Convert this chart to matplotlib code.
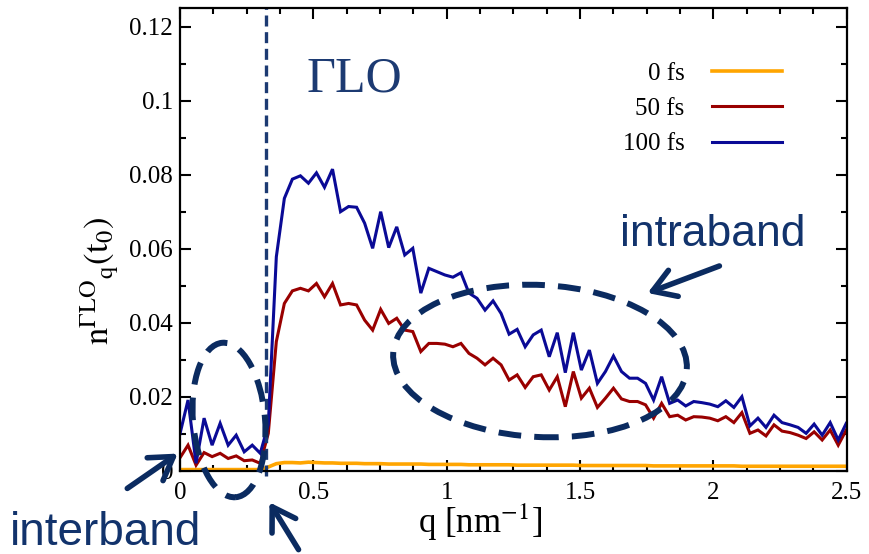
import numpy as np
import matplotlib
matplotlib.use("Agg")
import matplotlib.pyplot as plt
from matplotlib.patches import Ellipse, FancyArrowPatch
from matplotlib.transforms import Affine2D
from matplotlib.ticker import MultipleLocator, FuncFormatter

# ---------------- data ----------------
q_step = 0.0301
n_0fs = [0.0003, 0.0003, 0.0003, 0.0003, 0.0003, 0.0003, 0.0003, 0.0003, 0.0003, 0.0003,
         0.0003, 0.0010, 0.0019, 0.0022, 0.0022, 0.0021, 0.0023, 0.0022, 0.0021, 0.0021,
         0.0020, 0.0020, 0.0020, 0.0019, 0.0019, 0.0019, 0.0018, 0.0018, 0.0018, 0.0018,
         0.0018, 0.0017, 0.0017, 0.0017, 0.0017, 0.0017, 0.0016, 0.0016, 0.0016, 0.0016,
         0.0016, 0.0016, 0.0015, 0.0015, 0.0015, 0.0015, 0.0015, 0.0015, 0.0015, 0.0015,
         0.0014, 0.0014, 0.0014, 0.0014, 0.0014, 0.0014, 0.0014, 0.0014, 0.0014, 0.0013,
         0.0013, 0.0013, 0.0013, 0.0013, 0.0013, 0.0013, 0.0013, 0.0013, 0.0013, 0.0013,
         0.0012, 0.0012, 0.0012, 0.0012, 0.0012, 0.0012, 0.0012, 0.0012, 0.0012, 0.0012,
         0.0012, 0.0012, 0.0012, 0.0012]
n_50fs = [0.0035, 0.0069, 0.0015, 0.0049, 0.0038, 0.0047, 0.0033, 0.0040, 0.0027, 0.0029,
          0.0020, 0.0101, 0.0349, 0.0452, 0.0486, 0.0493, 0.0486, 0.0506, 0.0470, 0.0506,
          0.0448, 0.0452, 0.0448, 0.0407, 0.0380, 0.0436, 0.0398, 0.0412, 0.0380, 0.0376,
          0.0322, 0.0344, 0.0344, 0.0342, 0.0335, 0.0344, 0.0317, 0.0304, 0.0286, 0.0304,
          0.0286, 0.0245, 0.0259, 0.0225, 0.0254, 0.0259, 0.0218, 0.0254, 0.0173, 0.0268,
          0.0196, 0.0223, 0.0171, 0.0196, 0.0223, 0.0194, 0.0187, 0.0187, 0.0178, 0.0142,
          0.0182, 0.0146, 0.0150, 0.0137, 0.0146, 0.0145, 0.0142, 0.0135, 0.0146, 0.0130,
          0.0157, 0.0101, 0.0110, 0.0094, 0.0124, 0.0107, 0.0103, 0.0096, 0.0087, 0.0105,
          0.0083, 0.0110, 0.0069, 0.0110]
n_100fs = [0.0100, 0.0191, 0.0020, 0.0142, 0.0069, 0.0128, 0.0069, 0.0096, 0.0051, 0.0069,
           0.0047, 0.0125, 0.0578, 0.0736, 0.0788, 0.0797, 0.0777, 0.0805, 0.0766, 0.0815,
           0.0700, 0.0714, 0.0712, 0.0669, 0.0601, 0.0700, 0.0603, 0.0659, 0.0583, 0.0601,
           0.0480, 0.0547, 0.0538, 0.0529, 0.0523, 0.0535, 0.0480, 0.0466, 0.0434, 0.0459,
           0.0425, 0.0369, 0.0382, 0.0335, 0.0367, 0.0380, 0.0308, 0.0373, 0.0265, 0.0373,
           0.0272, 0.0326, 0.0236, 0.0268, 0.0310, 0.0268, 0.0250, 0.0250, 0.0236, 0.0191,
           0.0254, 0.0182, 0.0191, 0.0175, 0.0187, 0.0184, 0.0180, 0.0173, 0.0189, 0.0171,
           0.0200, 0.0121, 0.0142, 0.0117, 0.0150, 0.0130, 0.0124, 0.0117, 0.0101, 0.0126,
           0.0096, 0.0130, 0.0083, 0.0128]
series_labels = ["0 fs", "50 fs", "100 fs"]
q_marker = 0.322
x_ticks = [0, 0.5, 1, 1.5, 2, 2.5]
y_ticks = [0, 0.02, 0.04, 0.06, 0.08, 0.1, 0.12]

q = np.arange(len(n_100fs)) * q_step

# ---------------- style ----------------
plt.rcParams['font.family'] = ['Liberation Serif', 'DejaVu Serif']
plt.rcParams['mathtext.fontset'] = 'stix'

W, H = 869, 554
fig = plt.figure(figsize=(W / 100, H / 100), dpi=100)
ax = fig.add_axes([180 / W, 1 - 470.7 / H, 666.7 / W, 462.5 / H])

colors = ['#ffa500', '#990000', '#0a0a96']
widths = [2.6, 2.2, 2.2]
for vals, lab, c, w in zip([n_0fs, n_50fs, n_100fs], series_labels, colors, widths):
    ax.plot(q, vals, color=c, lw=w, label=lab, solid_joinstyle='miter')

ax.axvline(q_marker, ymin=-0.012, ymax=1, color='#1c3a72', lw=2.4, ls=(0, (3.3, 1.7)),
           clip_on=False)

ax.set_xlim(0, 2.5)
ax.set_ylim(0, 0.125)
ax.set_xticks(x_ticks)
ax.set_yticks(y_ticks)
fmt = FuncFormatter(lambda v, p: '%g' % v)
ax.xaxis.set_major_formatter(fmt)
ax.yaxis.set_major_formatter(fmt)
ax.xaxis.set_minor_locator(MultipleLocator(0.125))
ax.yaxis.set_minor_locator(MultipleLocator(0.01))
ax.tick_params(which='both', direction='in', top=True, right=True, width=1.5, labelsize=18)
ax.tick_params(which='major', length=8)
ax.tick_params(which='minor', length=4)
ax.tick_params(axis='x', pad=8)
ax.tick_params(axis='y', pad=5)
for s in ax.spines.values():
    s.set_linewidth(1.6)

ax.set_xlabel(r'q [nm$^{-1}$]', fontsize=25)
ax.xaxis.set_label_coords(0.45, -0.112)
ax.xaxis.label.set_va('center')
ax.set_ylabel(r'$\mathrm{n}^{\Gamma\mathrm{LO}}{}_{\mathrm{q}}(\mathrm{t}_0)$', fontsize=25)
ax.yaxis.set_label_coords(-0.12, 0.41)
ax.yaxis.label.set_va('center')

leg = ax.legend(loc='upper right', bbox_to_anchor=(782 / W, 1 - 62 / H),
                bbox_transform=fig.transFigure, frameon=False, markerfirst=False,
                fontsize=18, handlelength=2.8, handletextpad=1.1, labelspacing=0.52,
                borderpad=0, borderaxespad=0)

# ---------------- annotations (pixel coordinates, origin top-left) ----------------
pxT = Affine2D().scale(1 / 100) + fig.dpi_scale_trans


def P(x, y):
    return (x, H - y)


navy = '#0b2b60'
txtc = '#12336c'

fig.text(*P(306, 92), 'ΓLO', transform=pxT, fontsize=36, color='#1c3a72',
         ha='left', va='baseline', family='Liberation Serif')
fig.text(*P(620, 246), 'intraband', transform=pxT, fontsize=32, color=txtc,
         ha='left', va='baseline', family='Liberation Sans')
fig.text(*P(10, 545), 'interband', transform=pxT, fontsize=33, color=txtc,
         ha='left', va='baseline', family='Liberation Sans')

fig.add_artist(Ellipse(P(540, 361), width=294, height=152, angle=-3, transform=pxT,
                       fill=False, ec=navy, lw=4.3, ls=(0, (3.8, 2.2))))
fig.add_artist(Ellipse(P(229, 420), width=72, height=155, angle=5, transform=pxT,
                       fill=False, ec=navy, lw=4.3, ls=(0, (3.8, 2.2))))

for tail, head in [((722, 265), (645, 294)), ((125, 490), (180, 452)), ((300, 552), (268, 500))]:
    fig.add_artist(FancyArrowPatch(P(*tail), P(*head), transform=pxT,
                                   arrowstyle='->,head_length=0.8,head_width=0.5',
                                   mutation_scale=20, lw=4, color=navy))

fig.savefig('out.png', dpi=100)
